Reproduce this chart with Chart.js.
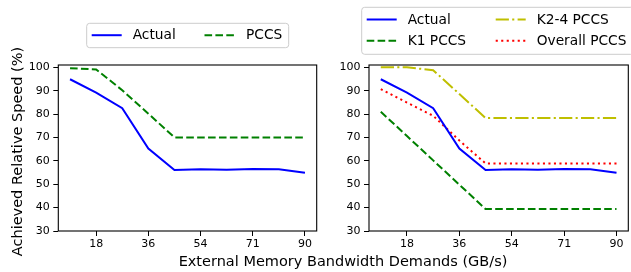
<!DOCTYPE html>
<html>
<head>
<meta charset="utf-8">
<script src="https://cdn.jsdelivr.net/npm/chart.js@4/dist/chart.umd.min.js"></script>
<style>
  html, body { margin: 0; padding: 0; background: #ffffff; }
  #wrap { position: relative; width: 631px; height: 272px; }
  canvas { position: absolute; left: 0; top: 0; }
</style>
</head>
<body>
<div id="wrap">
  <canvas id="left" width="631" height="272"></canvas>
  <canvas id="right" width="631" height="272"></canvas>
</div>
<script>
// ---------------- data ----------------
const bandwidth   = [9, 18, 27, 36, 45, 54, 63, 72, 81, 90];
const actual      = [94.9, 89.2, 82.5, 65.3, 56.1, 56.4, 56.2, 56.5, 56.4, 54.9];
const pccs        = [99.6, 99.1, 90.2, 80.2, 70.0, 70.0, 70.0, 70.0, 70.0, 70.0];
const k1Pccs      = [81.0, 70.6, 60.2, 49.8, 39.4, 39.4, 39.4, 39.4, 39.4, 39.4];
const k24Pccs     = [100.0, 100.0, 98.8, 88.6, 78.3, 78.3, 78.3, 78.3, 78.3, 78.3];
const overallPccs = [90.7, 84.9, 79.3, 68.7, 58.9, 58.9, 58.9, 58.9, 58.9, 58.9];
const xTickValues = [18, 36, 54, 72, 90];
const xTickLabels = ['18', '36', '54', '71', '90'];
const yTickValues = [30, 40, 50, 60, 70, 80, 90, 100];
const xTitle = 'External Memory Bandwidth Demands (GB/s)';
const yTitle = 'Achieved Relative Speed (%)';

// ---------------- helpers ----------------
const FONT = "'DejaVu Sans', 'Liberation Sans', sans-serif";
const LW = 2;
const DASHED = [7.6, 3.3];
const DASHDOT = [13.2, 3.3, 2.1, 3.3];
const DOTTED = [2.1, 3.4];

function pts(ys) { return bandwidth.map((x, i) => ({ x: x, y: ys[i] })); }
function ds(label, ys, color, dash) {
  return { label, data: pts(ys), borderColor: color, backgroundColor: color,
           borderWidth: LW, borderDash: dash, pointRadius: 0, tension: 0, fill: false };
}

const boxPlugin = {
  id: 'axesBox',
  afterDraw(chart) {
    const { ctx, chartArea: a } = chart;
    ctx.save();
    ctx.strokeStyle = '#000';
    ctx.lineWidth = 1.1;
    ctx.strokeRect(a.left, a.top, a.right - a.left, a.bottom - a.top);
    ctx.restore();
  }
};

const legendPlugin = {
  id: 'boxLegend',
  afterDraw(chart, args, opts) {
    if (!opts || !opts.items) return;
    const ctx = chart.ctx;
    const b = opts.box;
    ctx.save();
    ctx.beginPath();
    const r = 3;
    ctx.moveTo(b.x + r, b.y);
    ctx.lineTo(b.x + b.w - r, b.y);
    ctx.arcTo(b.x + b.w, b.y, b.x + b.w, b.y + r, r);
    ctx.lineTo(b.x + b.w, b.y + b.h - r);
    ctx.arcTo(b.x + b.w, b.y + b.h, b.x + b.w - r, b.y + b.h, r);
    ctx.lineTo(b.x + r, b.y + b.h);
    ctx.arcTo(b.x, b.y + b.h, b.x, b.y + b.h - r, r);
    ctx.lineTo(b.x, b.y + r);
    ctx.arcTo(b.x, b.y, b.x + r, b.y, r);
    ctx.closePath();
    ctx.fillStyle = 'rgba(255,255,255,0.8)';
    ctx.fill();
    ctx.strokeStyle = '#cccccc';
    ctx.lineWidth = 1;
    ctx.stroke();
    ctx.font = '13.75px ' + FONT;
    ctx.textBaseline = 'middle';
    ctx.fillStyle = '#000';
    opts.items.forEach(it => {
      const d = chart.data.datasets[it.index];
      ctx.beginPath();
      ctx.setLineDash(d.borderDash || []);
      ctx.strokeStyle = d.borderColor;
      ctx.lineWidth = d.borderWidth;
      ctx.moveTo(it.x, it.y);
      ctx.lineTo(it.x + 30, it.y);
      ctx.stroke();
      ctx.setLineDash([]);
      ctx.fillStyle = '#000';
      ctx.fillText(d.label, it.tx, it.y + 0.5);
    });
    ctx.restore();
  }
};

const figTextPlugin = {
  id: 'figText',
  afterDraw(chart, args, opts) {
    if (!opts || !opts.texts) return;
    const ctx = chart.ctx;
    opts.texts.forEach(t => {
      ctx.save();
      ctx.font = t.size + 'px ' + FONT;
      ctx.fillStyle = '#000';
      ctx.textAlign = 'center';
      ctx.textBaseline = 'alphabetic';
      ctx.translate(t.x, t.y);
      ctx.rotate(t.rot || 0);
      ctx.fillText(t.text, 0, 0);
      ctx.restore();
    });
  }
};

function makeOptions(cfg) {
  return {
    responsive: false,
    animation: false,
    devicePixelRatio: 1,
    layout: { padding: cfg.padding },
    plugins: {
      legend: { display: false },
      tooltip: { enabled: false },
      boxLegend: cfg.legend,
      figText: cfg.figText || {}
    },
    scales: {
      x: {
        type: 'linear',
        min: 4.95, max: 94.05,
        afterFit(s) { s.height = 20; },
        afterBuildTicks(s) { s.ticks = xTickValues.map(v => ({ value: v })); },
        ticks: {
          autoSkip: false, maxRotation: 0, padding: 2, color: '#000',
          font: { family: FONT, size: 11 },
          callback: (v) => xTickLabels[xTickValues.indexOf(v)]
        },
        grid: { drawOnChartArea: false, drawTicks: true, tickLength: 5, color: '#000', tickColor: '#000', tickWidth: 1 },
        border: { display: false }
      },
      y: {
        type: 'linear',
        min: 30, max: 101,
        afterFit(s) { s.width = cfg.yWidth; },
        afterBuildTicks(s) { s.ticks = yTickValues.map(v => ({ value: v })); },
        ticks: { padding: 3.5, color: '#000', font: { family: FONT, size: 11 } },
        grid: { drawOnChartArea: false, drawTicks: true, tickLength: 5, color: '#000', tickColor: '#000', tickWidth: 1 },
        border: { display: false }
      }
    }
  };
}

Chart.register(boxPlugin, legendPlugin, figTextPlugin);

new Chart(document.getElementById('left'), {
  type: 'line',
  data: { datasets: [
    ds('Actual', actual, '#0000ff', []),
    ds('PCCS', pccs, '#008000', DASHED)
  ] },
  options: makeOptions({
    padding: { left: 0, right: 631 - 316.7, top: 65, bottom: 272 - 231 - 20 },
    yWidth: 58.3,
    legend: {
      box: { x: 86.7, y: 23.3, w: 202, h: 24.4 },
      items: [
        { index: 0, x: 91.7, y: 35.2, tx: 132.7 },
        { index: 1, x: 204.5, y: 35.2, tx: 246 }
      ]
    },
    figText: { texts: [
      { text: xTitle, x: 343, y: 266, size: 14.5 },
      { text: yTitle, x: 22.3, y: 151.5, size: 14.5, rot: -Math.PI / 2 }
    ] }
  })
});

new Chart(document.getElementById('right'), {
  type: 'line',
  data: { datasets: [
    ds('Actual', actual, '#0000ff', []),
    ds('K1 PCCS', k1Pccs, '#008000', DASHED),
    ds('K2-4 PCCS', k24Pccs, '#bfbf00', DASHDOT),
    ds('Overall PCCS', overallPccs, '#ff0000', DOTTED)
  ] },
  options: makeOptions({
    padding: { left: 369 - 45, right: 631 - 628.3, top: 65, bottom: 272 - 231 - 20 },
    yWidth: 45,
    legend: {
      box: { x: 361.7, y: 7.3, w: 272, h: 47 },
      items: [
        { index: 0, x: 366.7, y: 19.5, tx: 407.7 },
        { index: 1, x: 366.7, y: 40.8, tx: 407.7 },
        { index: 2, x: 495.7, y: 19.5, tx: 536.7 },
        { index: 3, x: 495.7, y: 40.8, tx: 536.7 }
      ]
    }
  })
});
</script>
</body>
</html>
